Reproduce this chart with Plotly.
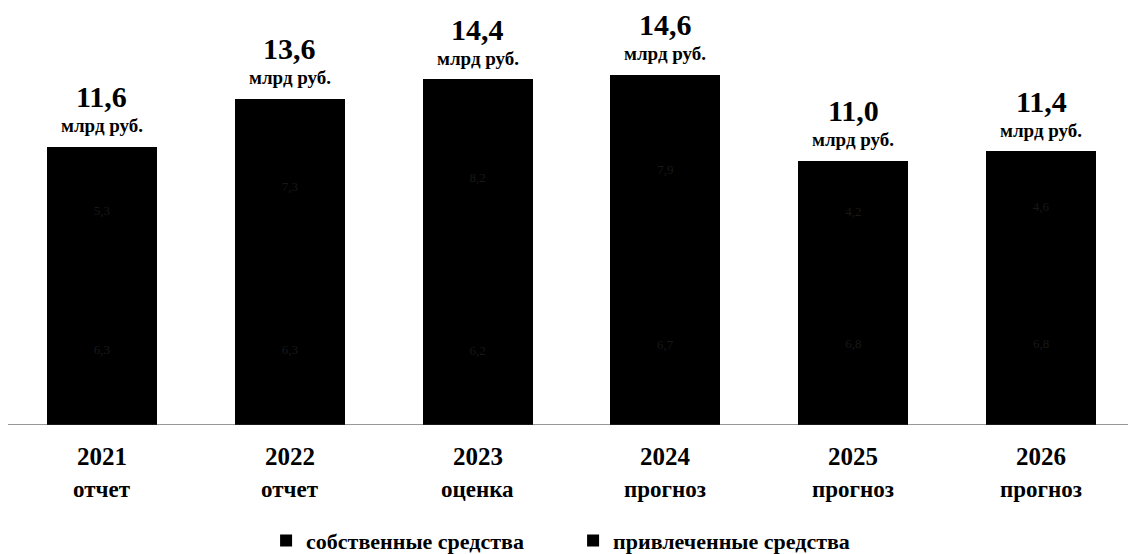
import plotly.graph_objects as go

years = ["2021", "2022", "2023", "2024", "2025", "2026"]
kinds = ["отчет", "отчет", "оценка", "прогноз", "прогноз", "прогноз"]
totals = [11.6, 13.6, 14.4, 14.6, 11.0, 11.4]
own = [6.3, 6.3, 6.2, 6.7, 6.8, 6.8]
borrowed = [5.3, 7.3, 8.2, 7.9, 4.2, 4.6]
total_labels = ["11,6", "13,6", "14,4", "14,6", "11,0", "11,4"]
unit = "млрд руб."

serif = "Liberation Serif"
cats = [f"{y} {k}" for y, k in zip(years, kinds)]

fig = go.Figure()
for name, vals in [("собственные средства", own), ("привлеченные средства", borrowed)]:
    fig.add_trace(go.Bar(
        x=cats, y=vals, name=name,
        marker=dict(color="#000000", line=dict(width=0)),
        text=[f"{v:.1f}".replace(".", ",") for v in vals], textposition="inside",
        insidetextanchor="middle",
        textfont=dict(color="#181818", size=13, family=serif),
    ))

for c, yr, t, lab, k in zip(cats, years, totals, total_labels, kinds):
    fig.add_annotation(x=c, y=t, text=unit, showarrow=False, yanchor="middle",
                       yshift=21, font=dict(family=serif, size=19, color="black", weight=700))
    fig.add_annotation(x=c, y=t, text=lab, showarrow=False, yanchor="middle",
                       yshift=50, font=dict(family=serif, size=30, color="black", weight=700))
    fig.add_annotation(x=c, y=0, text=yr, showarrow=False,
                       yanchor="middle", yshift=-31, font=dict(family=serif, size=25, color="black", weight=700))
    fig.add_annotation(x=c, y=0, text=k, showarrow=False,
                       yanchor="middle", yshift=-64, font=dict(family=serif, size=23, color="black", weight=700))

fig.add_shape(type="line", xref="paper", yref="y", x0=-0.01, x1=1.01, y0=0, y1=0,
              line=dict(color="#333333", width=1.2))

fig.update_layout(
    width=1136, height=554,
    barmode="stack", bargap=0.415,
    plot_bgcolor="white", paper_bgcolor="white",
    margin=dict(l=0, r=9, t=32, b=137),
    font=dict(family=serif, color="black"),
    showlegend=True,
    legend=dict(orientation="h", x=0.229, xanchor="left", y=-0.246, yanchor="top",
                font=dict(family=serif, size=22, color="black", weight=700),
                entrywidth=262, itemwidth=30, traceorder="normal"),
    xaxis=dict(showgrid=False, showline=False, ticks="", showticklabels=False,
               type="category"),
    yaxis=dict(range=[0, 16.04], visible=False, showgrid=False),
)

fig.write_html("out.html")
